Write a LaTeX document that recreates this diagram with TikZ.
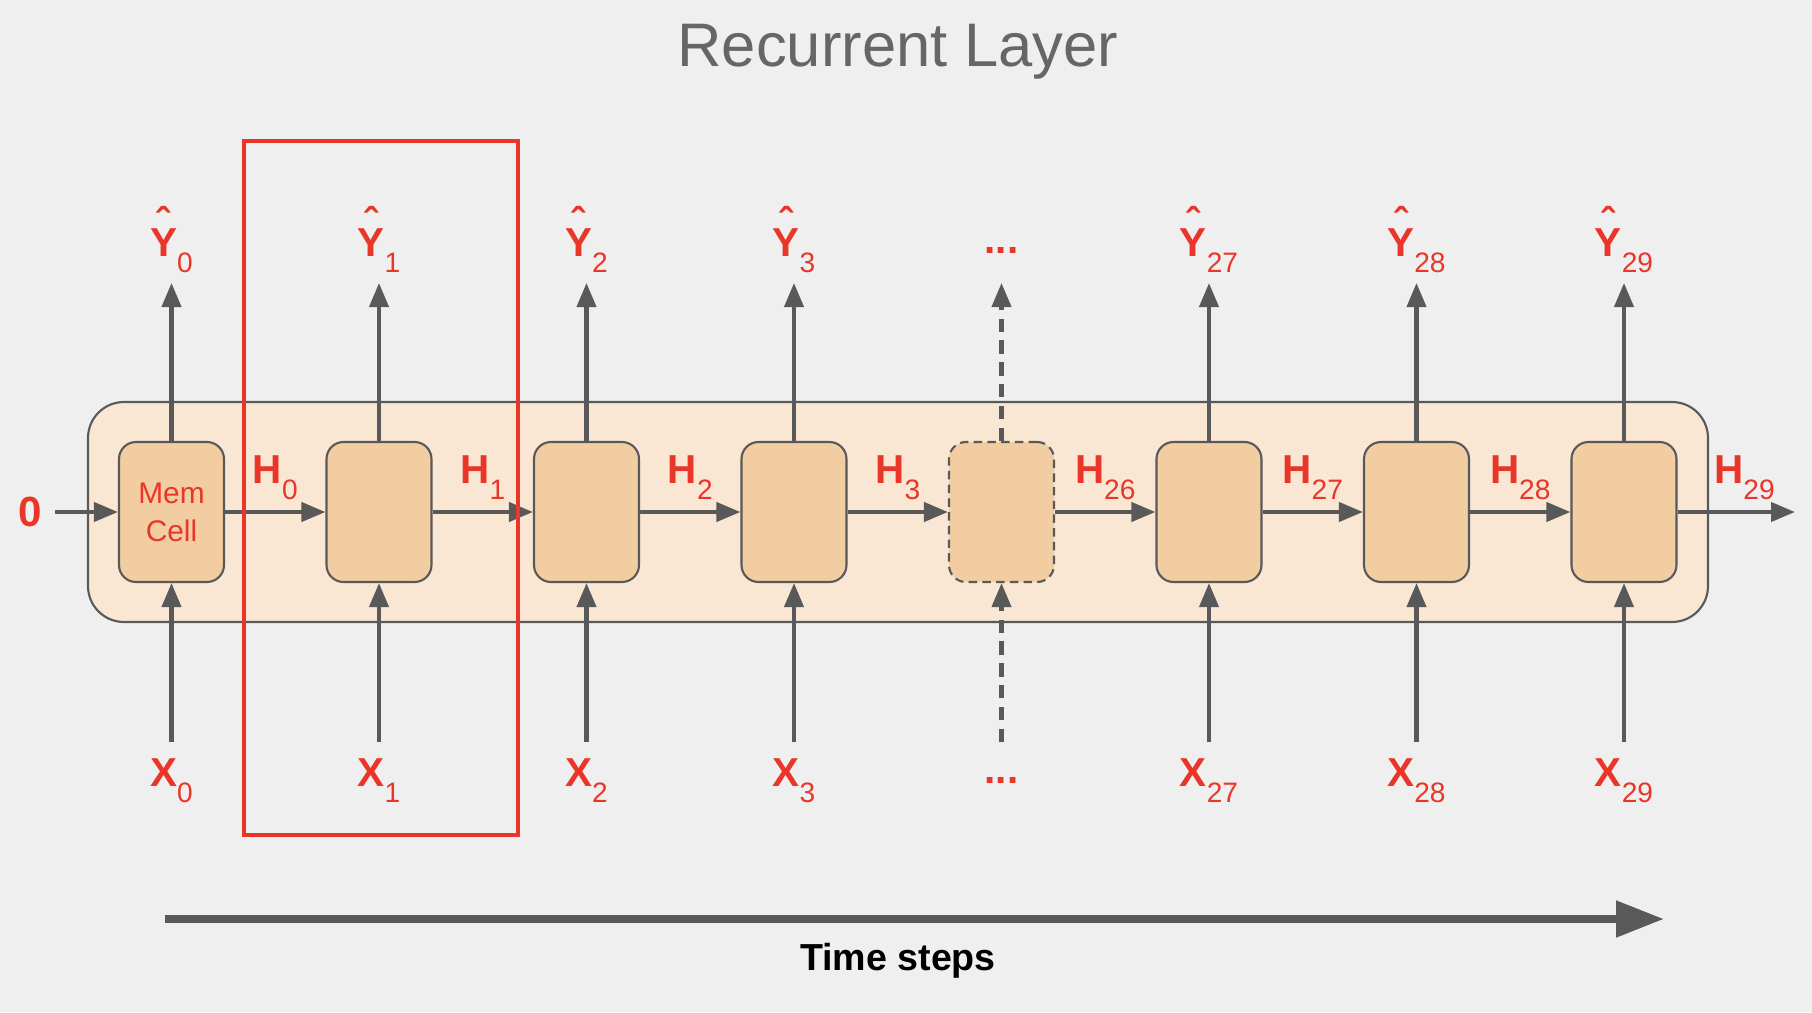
\documentclass[tikz,border=0pt]{standalone}
\usepackage{fontspec}
\setmainfont{Liberation Sans}
\usetikzlibrary{arrows.meta,positioning}

\definecolor{bgcol}{RGB}{239,239,239}
\definecolor{redlab}{RGB}{234,54,40}
\definecolor{linegray}{RGB}{89,89,89}
\definecolor{layerfill}{RGB}{249,230,211}
\definecolor{cellfill}{RGB}{242,205,162}

% bold letter with a lowered plain index
\newcommand{\sublab}[2]{#1\raisebox{-1.6mm}{\mdseries\fontsize{8}{9}\selectfont #2}}
% Y with a free-standing hat
\newcommand{\hatY}{\ooalign{Y\cr\hidewidth\raisebox{2mm}{\char"02C6}\hidewidth\cr}}

\tikzset{
	cell/.style={draw=linegray, line width=0.6pt, fill=cellfill, rounded corners=1.7mm,
		minimum width=10.5mm, minimum height=14mm, inner sep=0pt},
	celldash/.style={dash pattern=on 2.4pt off 1.5pt},
	conn/.style={draw=linegray, line width=1.15pt, -{Triangle[length=2.4mm,width=1.9mm]}},
	conndash/.style={conn, dash pattern=on 3.8pt off 2.4pt},
	lab/.style={text=redlab, font=\bfseries\fontsize{11.5}{13}\selectfont, inner sep=0pt},
	hlab/.style={lab, anchor=base, yshift=2.9mm}
}

\begin{document}
\begin{tikzpicture}
	\fill[bgcol] (0,0) rectangle (18.12,10.12);
	\node[text=black!60, font=\fontsize{17.5}{20}\selectfont, anchor=base] (title) at (8.98,9.46) {Recurrent Layer};

	% the layer and its cells
	\node[draw=linegray, line width=0.6pt, fill=layerfill, rounded corners=3.6mm,
		minimum width=16.2cm, minimum height=2.2cm] (layer) at (8.98,5) {};
	\foreach \i/\d in {0/solid,1/solid,2/solid,3/solid,4/celldash,5/solid,6/solid,7/solid}
		\node[cell, \d] (c\i) at ({1.715+2.075*\i},5) {};
	\node[text=redlab, align=center, font=\fontsize{8.5}{10.8}\selectfont] at (c0) {Mem\\Cell};

	% inputs and outputs
	\foreach \i/\n in {0/0,1/1,2/2,3/3,5/27,6/28,7/29}{
		\path (c\i) ++(0,2.29) coordinate (out\i) ++(0,0.27) node[lab, anchor=base] (yhat\i) {\sublab{\hatY}{\n}};
		\path (c\i) ++(0,-2.3) coordinate (in\i) ++(0,-0.44) node[lab, anchor=base] (x\i) {\sublab{X}{\n}};
		\draw[conn] (c\i) -- (out\i);
		\draw[conn] (in\i) -- (c\i);
	}
	\path (c4) ++(0,2.29) coordinate (out4) ++(0,0.33) node[lab] (yhat4) {...};
	\path (c4) ++(0,-2.3) coordinate (in4) ++(0,-0.38) node[lab] (x4) {...};
	\draw[conndash] (c4) -- (out4);
	\draw[conndash] (in4) -- (c4);

	% hidden states
	\node[lab, font=\bfseries\fontsize{12}{13}\selectfont, inner xsep=1.3mm] (zero) at (0.3,5) {0};
	\coordinate (hend) at (17.95,5);
	\draw[conn] (zero) -- (c0);
	\foreach \i/\j/\n in {0/1/0,1/2/1,2/3/2,3/4/3,4/5/26,5/6/27,6/7/28}
		\draw[conn] (c\i) -- node[hlab] {\sublab{H}{\n}} (c\j);
	\draw[conn] (c7) -- node[hlab, pos=0.57] {\sublab{H}{29}} (hend);

	% one time step
	\draw[redlab, line width=0.9pt] (2.44,1.77) rectangle (5.18,8.71);

	% time axis
	\coordinate (tstart) at (1.65,0.93);
	\coordinate (tend) at (16.64,0.93);
	\draw[linegray, line width=2.3pt, -{Triangle[length=4.8mm,width=3.5mm]}] (tstart) -- (tend);
	\node[anchor=base, font=\bfseries\fontsize{10.7}{12}\selectfont] (tsteps) at (8.98,0.42) {Time steps};
\end{tikzpicture}
\end{document}
